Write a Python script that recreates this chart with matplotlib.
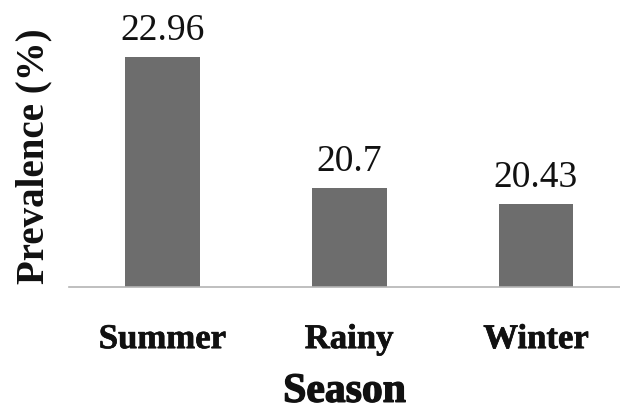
import matplotlib.pyplot as plt
import matplotlib.patheffects as pe

seasons = ["Summer", "Rainy", "Winter"]
prevalence = [22.96, 20.7, 20.43]

plt.rcParams['font.family'] = ['Liberation Serif', 'DejaVu Serif']

fig = plt.figure(figsize=(6.2, 4.12), dpi=100)
ax = fig.add_axes([69 / 620, 125 / 412, 551 / 620, 261 / 412])

x = range(len(seasons))
ax.bar(x, prevalence, width=0.4, color='#6d6d6d', bottom=0)
ax.set_ylim(19, 23.5)
ax.set_xlim(-0.5, 2.45)

# value labels above each bar
for i, v in zip(x, prevalence):
    ax.annotate(f"{v:g}", (i, v), xytext=(0, 19), textcoords='offset points',
                ha='center', va='center', fontsize=27, color='#111111')

ax.set_xticks(list(x))
ax.set_xticklabels(seasons, fontsize=25, fontweight='bold', color='#111111')
for lbl in ax.get_xticklabels():
    lbl.set_path_effects([pe.withStroke(linewidth=0.5, foreground='#111111')])
ax.tick_params(axis='x', length=0, pad=26)
ax.set_yticks([])

ax.set_xlabel("Season", fontsize=30, fontweight='bold', labelpad=12, color='#111111',
              path_effects=[pe.withStroke(linewidth=1.0, foreground='#111111')])
ax.set_ylabel("Prevalence (%)", fontsize=28, fontweight='bold', labelpad=12, color='#111111')

for side in ['top', 'right', 'left']:
    ax.spines[side].set_visible(False)
ax.spines['bottom'].set_color('#b4b4b4')
ax.spines['bottom'].set_linewidth(1.2)

fig.savefig("out.png", dpi=100)
